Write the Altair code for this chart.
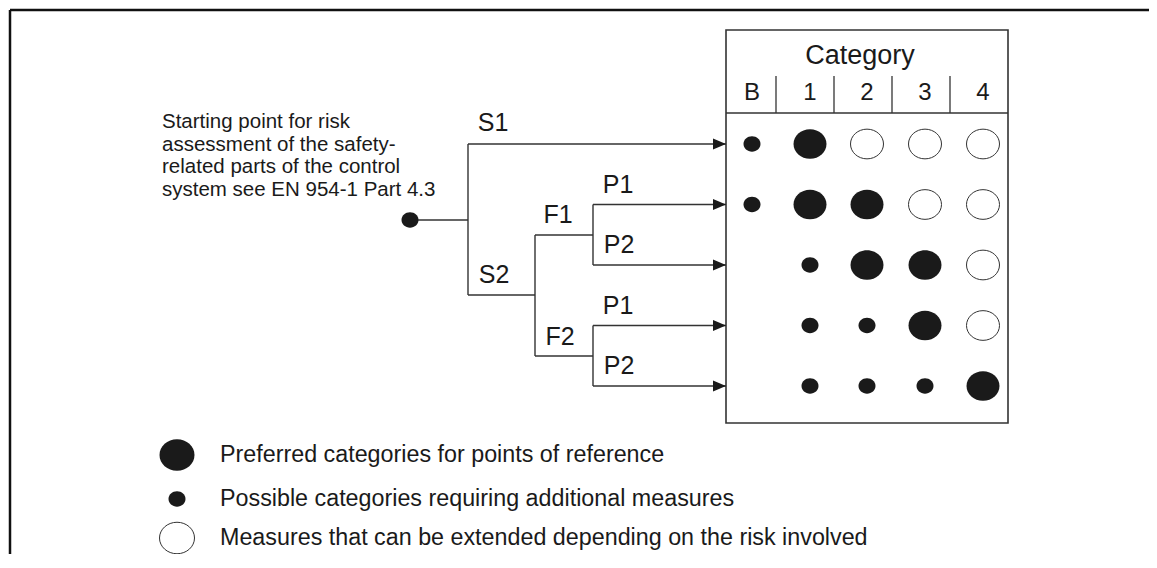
import altair as alt
import pandas as pd

# ---------------- data ----------------
categories = ["B", "1", "2", "3", "4"]
risk_paths = ["S1", "S2-F1-P1", "S2-F1-P2", "S2-F2-P1", "S2-F2-P2"]
# P = preferred category, A = possible with additional measures,
# E = measures that can be extended, "" = not applicable
matrix = [
    ["A", "P", "E", "E", "E"],
    ["A", "P", "P", "E", "E"],
    ["",  "A", "P", "P", "E"],
    ["",  "A", "A", "P", "E"],
    ["",  "A", "A", "A", "P"],
]
branch_labels = ["S1", "S2", "F1", "F2", "P1", "P2", "P1", "P2"]
start_lines = ["Starting point for risk",
               "assessment of the safety-",
               "related parts of the control",
               "system see EN 954-1 Part 4.3"]
legend_kinds = ["P", "A", "E"]
legend_texts = ["Preferred categories for points of reference",
                "Possible categories requiring additional measures",
                "Measures that can be extended depending on the risk involved"]

# ---------------- layout (diagram coordinates) ----------------
W, H = 1141, 546
X0, Y0 = 8, 8
row_y = [144, 204.5, 265, 325.5, 386]
col_x = [752, 810, 867, 925, 983]
box = dict(x=726, x2=1008, y=30, y2=423)
header_y = 113
divider_x = [776, 834, 892, 950]
divider_top = 76
start_pt = (410, 220)
s_x, f_x, p_x = 468, 535, 593
s2_y, f1_y, f2_y = 295, 235, 356
label_pos = [(493, 123), (494, 275), (558, 215), (560, 337),
             (618, 185), (619, 245), (618, 306), (619, 366)]
legend_x, legend_tx = 177, 220
legend_y = [455, 499, 538]

xs = alt.Scale(domain=[X0, X0 + W], nice=False, zero=False)
ys = alt.Scale(domain=[Y0, Y0 + H], reverse=True, nice=False, zero=False)


def XY(df_has_x2=False):
    enc = dict(x=alt.X("x:Q", scale=xs, axis=None),
               y=alt.Y("y:Q", scale=ys, axis=None))
    if df_has_x2:
        enc["x2"] = alt.X2("x2:Q")
        enc["y2"] = alt.Y2("y2:Q")
    return enc


ELL = "M -1 0 A 1 0.9 0 1 0 1 0 A 1 0.9 0 1 0 -1 0 Z"
ARROW = "M -2 -0.85 L 0 0 L -2 0.85 Z"
LINE = "#333333"
INK = "#1a1a1a"
FONT = "Liberation Sans"

# frame (cropped: only top and left edges visible)
frame = pd.DataFrame([dict(x=10, y=10, x2=1170, y2=10),
                      dict(x=10, y=10, x2=10, y2=580)])
frame_l = alt.Chart(frame).mark_rule(color="#111111", strokeWidth=2.5).encode(**XY(True))

# tree segments
segs = [
    (start_pt[0], start_pt[1], s_x, start_pt[1]),
    (s_x, row_y[0], s_x, s2_y),
    (s_x, row_y[0], box["x"], row_y[0]),
    (s_x, s2_y, f_x, s2_y),
    (f_x, f1_y, f_x, f2_y),
    (f_x, f1_y, p_x, f1_y),
    (f_x, f2_y, p_x, f2_y),
    (p_x, row_y[1], p_x, row_y[2]),
    (p_x, row_y[3], p_x, row_y[4]),
]
for r in range(1, 5):
    segs.append((p_x, row_y[r], box["x"], row_y[r]))
seg_df = pd.DataFrame(segs, columns=["x", "y", "x2", "y2"])
tree_l = alt.Chart(seg_df).mark_rule(color=LINE, strokeWidth=1.4).encode(**XY(True))

# arrows
arr_df = pd.DataFrame({"x": [box["x"]] * 5, "y": row_y, "path": risk_paths})
arr_l = alt.Chart(arr_df).mark_point(shape=ARROW, filled=True, size=169, color=INK,
                                     opacity=1).encode(**XY())

# start dot
st_df = pd.DataFrame({"x": [start_pt[0]], "y": [start_pt[1]]})
st_l = alt.Chart(st_df).mark_point(shape=ELL, filled=True, size=289, color=INK,
                                   opacity=1).encode(**XY())

# branch labels
lab_df = pd.DataFrame({"x": [p[0] for p in label_pos], "y": [p[1] for p in label_pos],
                       "t": branch_labels})
lab_l = alt.Chart(lab_df).mark_text(font=FONT, fontSize=25, color=INK, align="center",
                                    baseline="middle").encode(text="t:N", **XY())

# starting text
stt_df = pd.DataFrame({"x": [162], "y": [128], "t": ["\n".join(start_lines)]})
stt_l = alt.Chart(stt_df).mark_text(font=FONT, fontSize=20.5, color=INK, align="left",
                                    baseline="alphabetic", lineBreak="\n",
                                    lineHeight=22.7).encode(text="t:N", **XY())

# category box
box_df = pd.DataFrame([box])
box_l = alt.Chart(box_df).mark_rect(fillOpacity=0, stroke=LINE, strokeWidth=1.6).encode(**XY(True))
hdr = [(box["x"], header_y, box["x2"], header_y)] + [(dx, divider_top, dx, header_y) for dx in divider_x]
hdr_df = pd.DataFrame(hdr, columns=["x", "y", "x2", "y2"])
hdr_l = alt.Chart(hdr_df).mark_rule(color=LINE, strokeWidth=1.3).encode(**XY(True))

cat_df = pd.DataFrame({"x": [(box["x"] + box["x2"]) / 2 - 7], "y": [56], "t": ["Category"]})
cat_l = alt.Chart(cat_df).mark_text(font=FONT, fontSize=27, color=INK, align="center",
                                    baseline="middle").encode(text="t:N", **XY())
col_df = pd.DataFrame({"x": col_x, "y": [93] * 5, "t": categories})
col_l = alt.Chart(col_df).mark_text(font=FONT, fontSize=24, color=INK, align="center",
                                    baseline="middle").encode(text="t:N", **XY())

# matrix symbols
cells = []
for r, row in enumerate(matrix):
    for c, k in enumerate(row):
        if k:
            cells.append(dict(x=col_x[c], y=row_y[r], kind=k,
                              path=risk_paths[r], cat=categories[c]))
cell_df = pd.DataFrame(cells)
big_l = alt.Chart(cell_df).transform_filter("datum.kind == 'P'").mark_point(
    shape=ELL, filled=True, size=1089, color=INK, opacity=1).encode(**XY())
small_l = alt.Chart(cell_df).transform_filter("datum.kind == 'A'").mark_point(
    shape=ELL, filled=True, size=289, color=INK, opacity=1).encode(**XY())
open_l = alt.Chart(cell_df).transform_filter("datum.kind == 'E'").mark_point(
    shape=ELL, filled=True, size=1089, color="white", stroke=LINE, strokeWidth=1,
    opacity=1).encode(**XY())

# legend
lg_df = pd.DataFrame({"x": [legend_x] * 3, "y": legend_y, "kind": legend_kinds,
                      "tx": [legend_tx] * 3, "t": legend_texts})
lg_big = alt.Chart(lg_df).transform_filter("datum.kind == 'P'").mark_point(
    shape=ELL, filled=True, size=1225, color=INK, opacity=1).encode(**XY())
lg_small = alt.Chart(lg_df).transform_filter("datum.kind == 'A'").mark_point(
    shape=ELL, filled=True, size=289, color=INK, opacity=1).encode(**XY())
lg_open = alt.Chart(lg_df).transform_filter("datum.kind == 'E'").mark_point(
    shape=ELL, filled=True, size=1225, color="white", stroke=LINE, strokeWidth=1,
    opacity=1).encode(**XY())
lg_text = alt.Chart(lg_df).mark_text(font=FONT, fontSize=23.3, color=INK, align="left",
                                     baseline="middle").encode(
    x=alt.X("tx:Q", scale=xs, axis=None), y=alt.Y("y:Q", scale=ys, axis=None), text="t:N")

chart = alt.layer(
    frame_l, tree_l, box_l, hdr_l, arr_l, st_l, lab_l, stt_l, cat_l, col_l,
    big_l, small_l, open_l, lg_big, lg_small, lg_open, lg_text
).properties(
    width=W, height=H, padding=0, autosize=alt.AutoSizeParams(type="none"),
    background="white"
).configure_view(stroke=None)

chart.save("out.html", embed_options={"renderer": "svg", "actions": False})
